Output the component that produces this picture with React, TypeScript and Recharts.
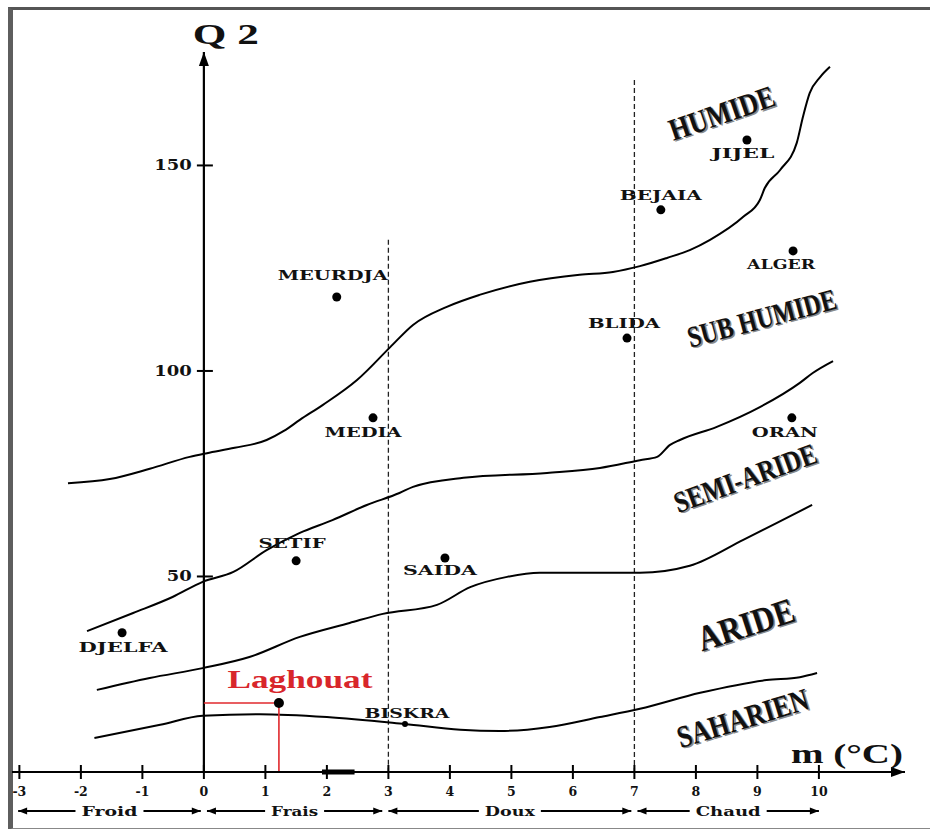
import React from 'react';
import { ComposedChart, Line, Scatter, XAxis, YAxis, ReferenceLine, ReferenceDot } from 'recharts';

// ---- axes ----
const xTicks = [-3, -2, -1, 0, 1, 2, 3, 4, 5, 6, 7, 8, 9, 10];
const yTicks = [50, 100, 150];
const X_MIN = -3.12;
const X_MAX = 11.4;
const Y_MIN = 2.43;
const Y_MAX = 177.6;

// ---- limit curves (m in °C, Q2) ----
const humideLimitM = [-2.21, -1.53, -0.88, -0.23, 0.05, 0.5, 1.02, 1.3, 1.56, 1.93, 2.49, 3.03, 3.4, 3.95, 4.48, 5.3, 6.11, 6.65, 7.09, 7.53, 7.9, 8.23, 8.77, 9.04, 9.12, 9.37, 9.64, 9.74, 9.85, 10.02, 10.18];
const humideLimitQ = [72.7, 73.7, 76.2, 79.1, 80.0, 81.3, 83.2, 85.4, 88.1, 91.7, 97.8, 105.8, 111.2, 115.6, 118.5, 121.7, 123.4, 124.1, 125.5, 127.5, 129.4, 131.9, 137.5, 141.6, 144.5, 148.9, 155.5, 161.8, 167.6, 171.5, 174.0];

const subHumideLimitM = [-1.9, -1.15, -0.51, -0.02, 0.48, 1.02, 1.56, 2.09, 2.65, 3.18, 3.4, 4.22, 5.58, 6.44, 7.09, 7.37, 7.58, 7.74, 8.34, 9.04, 9.69, 9.9, 10.23];
const subHumideLimitQ = [36.7, 41.1, 45.0, 48.7, 51.1, 56.4, 60.6, 63.7, 67.4, 70.3, 71.8, 74.0, 75.2, 76.4, 78.3, 79.1, 82.0, 83.2, 86.4, 91.2, 97.1, 99.5, 102.4];

const semiArideLimitM = [-1.74, -0.88, -0.02, 0.74, 1.56, 2.37, 2.91, 3.79, 4.33, 4.93, 5.46, 6.23, 7.09, 7.9, 8.77, 9.31, 9.89];
const semiArideLimitQ = [22.4, 25.3, 27.7, 30.4, 35.3, 38.7, 40.9, 43.1, 47.4, 49.9, 50.9, 50.9, 50.9, 52.6, 58.9, 63.0, 67.4];

const arideLimitM = [-1.78, -0.71, -0.02, 0.91, 2.0, 3.27, 4.17, 4.81, 5.62, 6.44, 7.09, 8.07, 9.15, 9.69, 9.97];
const arideLimitQ = [10.7, 13.9, 16.1, 16.5, 15.8, 14.1, 12.7, 12.4, 13.4, 15.8, 17.8, 21.7, 24.8, 25.5, 26.5];

// ---- stations ----
const stationNames = ['MEURDJA', 'MEDIA', 'BLIDA', 'BEJAIA', 'JIJEL', 'ALGER', 'ORAN', 'SETIF', 'SAIDA', 'DJELFA', 'BISKRA'];
const stationM = [2.16, 2.75, 6.88, 7.43, 8.83, 9.58, 9.56, 1.5, 3.92, -1.33, 3.27];
const stationQ = [118.0, 88.6, 108.0, 139.2, 156.2, 129.2, 88.6, 53.8, 54.5, 36.3, 14.1];

const laghouatName = 'Laghouat';
const laghouatM = 1.22;
const laghouatQ = 19.2;

// ---- bioclimatic stages (label anchors) ----
const stageNames = ['HUMIDE', 'SUB HUMIDE', 'SEMI-ARIDE', 'ARIDE', 'SAHARIEN'];
const stageM = [8.42, 9.07, 8.8, 8.81, 8.76];
const stageQ = [162.8, 112.9, 74.0, 38.4, 15.6];

// ---- winter variants ----
const winterNames = ['Froid', 'Frais', 'Doux', 'Chaud'];
const winterFrom = [-3.02, 0.05, 3.0, 7.05];
const winterTo = [-0.05, 2.9, 6.95, 10.0];
const WINTER_ROW_Q = -7.06;

// dashed limits
const dashedM = [3, 7];
const dashedTopQ = [131.9, 170.8];

// ---- styling (not data) ----
const SERIF_WIDE = "'DejaVu Serif', serif";
const SERIF = "'Liberation Serif', 'Times New Roman', serif";

const stationLabelLayout: Record<string, { dx: number; dy: number; w: number; r?: number }> = {
  MEURDJA: { dx: -4, dy: -21, w: 110 },
  MEDIA: { dx: -10, dy: 15, w: 77 },
  BLIDA: { dx: -3, dy: -15, w: 72 },
  BEJAIA: { dx: 0, dy: -14, w: 82 },
  JIJEL: { dx: -4, dy: 14, w: 63 },
  ALGER: { dx: -12, dy: 14, w: 68 },
  ORAN: { dx: -7, dy: 15, w: 66 },
  SETIF: { dx: -4, dy: -17, w: 67 },
  SAIDA: { dx: -5, dy: 13, w: 74 },
  DJELFA: { dx: 1, dy: 15, w: 89 },
  BISKRA: { dx: 2, dy: -11, w: 85, r: 3 },
};

const stageStyle: Record<string, { angle: number; size: number; len: number }> = {
  HUMIDE: { angle: -19, size: 26, len: 110 },
  'SUB HUMIDE': { angle: -15, size: 25, len: 153 },
  'SEMI-ARIDE': { angle: -20, size: 25, len: 150 },
  ARIDE: { angle: -18, size: 30, len: 100 },
  SAHARIEN: { angle: -17, size: 26, len: 136 },
};

const winterTextWidth: Record<string, number> = { Froid: 56, Frais: 47, Doux: 50, Chaud: 65 };

const zip = (ms: number[], qs: number[]) => ms.map((m, i) => ({ m, q: qs[i] }));
const stations = stationNames.map((name, i) => ({ name, m: stationM[i], q: stationQ[i] }));
const laghouat = [{ name: laghouatName, m: laghouatM, q: laghouatQ }];
const curves = [
  zip(humideLimitM, humideLimitQ),
  zip(subHumideLimitM, subHumideLimitQ),
  zip(semiArideLimitM, semiArideLimitQ),
  zip(arideLimitM, arideLimitQ),
];

const XTick = (props: any) => {
  const { x, y, payload } = props;
  return (
    <g>
      <line x1={x} x2={x} y1={y - 7} y2={y + 7} stroke="#000" strokeWidth={2} />
      <text x={x} y={y + 19} textAnchor="middle" dominantBaseline="central" fontFamily={SERIF_WIDE} fontWeight="bold" fontSize={12.5} fill="#111">
        {payload.value}
      </text>
    </g>
  );
};

const StationMark = (props: any) => {
  const { cx, cy, payload } = props;
  const lay = stationLabelLayout[payload.name];
  return (
    <g>
      <circle cx={cx} cy={cy} r={lay.r ?? 4.5} fill="#000" />
      <text x={cx + lay.dx} y={cy + lay.dy} textAnchor="middle" dominantBaseline="central" fontFamily={SERIF_WIDE} fontWeight="bold" fontSize={13} textLength={lay.w} lengthAdjust="spacingAndGlyphs" fill="#111">
        {payload.name}
      </text>
    </g>
  );
};

const LaghouatMark = (props: any) => {
  const { cx, cy, payload } = props;
  return (
    <g>
      <circle cx={cx} cy={cy} r={5} fill="#000" />
      <text x={cx + 21} y={cy - 24} textAnchor="middle" dominantBaseline="central" fontFamily={SERIF} fontWeight="bold" fontSize={25} textLength={145} lengthAdjust="spacingAndGlyphs" fill="#d8262b">
        {payload.name}
      </text>
    </g>
  );
};

const StageLabel = (props: any) => {
  const { cx, cy, name } = props;
  const s = stageStyle[name];
  const common = {
    textAnchor: 'middle' as const,
    dominantBaseline: 'central' as const,
    fontFamily: SERIF,
    fontWeight: 'bold' as const,
    fontSize: s.size,
    textLength: s.len,
    lengthAdjust: 'spacingAndGlyphs' as const,
  };
  return (
    <g transform={`translate(${cx},${cy}) rotate(${s.angle}) scale(1,1.2)`}>
      <text x={1.3} y={1.3} fill="#8a8a8a" {...common}>{name}</text>
      <text x={0} y={0} fill="#111" {...common}>{name}</text>
    </g>
  );
};

const YTickMark = (props: any) => {
  const { cx, cy, value } = props;
  const label = String(value);
  return (
    <g>
      <line x1={cx - 7} x2={cx + 9} y1={cy} y2={cy} stroke="#000" strokeWidth={2} />
      <text x={cx - 12} y={cy} textAnchor="end" dominantBaseline="central" fontFamily={SERIF_WIDE} fontWeight="bold" fontSize={15} textLength={label.length * 12.5} lengthAdjust="spacingAndGlyphs" fill="#111">
        {label}
      </text>
    </g>
  );
};

const YArrow = (props: any) => {
  const { cx, cy } = props;
  return (
    <g>
      <path d={`M${cx},${cy} L${cx - 5},${cy + 14} L${cx + 5},${cy + 14} Z`} fill="#000" />
      <text x={cx - 11} y={cy - 8} textAnchor="start" fontFamily={SERIF} fontWeight="bold" fontSize={30} textLength={66} lengthAdjust="spacingAndGlyphs" fill="#111">
        Q 2
      </text>
    </g>
  );
};

const XArrow = (props: any) => {
  const { cx, cy } = props;
  return (
    <g>
      <path d={`M${cx},${cy} L${cx - 14},${cy - 5} L${cx - 14},${cy + 5} Z`} fill="#000" />
      <text x={cx - 2} y={cy - 9} textAnchor="end" fontFamily={SERIF} fontWeight="bold" fontSize={28} textLength={112} lengthAdjust="spacingAndGlyphs" fill="#111">
        m (°C)
      </text>
    </g>
  );
};

const WinterSpan = (props: any) => {
  const { viewBox, text } = props;
  if (!viewBox) return null;
  const { x, y, width } = viewBox;
  const x2 = x + width;
  const mid = x + width / 2;
  const tw = winterTextWidth[text];
  return (
    <g>
      <rect x={mid - tw / 2 - 6} y={y - 9} width={tw + 12} height={18} fill="#fff" />
      <path d={`M${x},${y} l9,-3.5 l0,7 z`} fill="#000" />
      <path d={`M${x2},${y} l-9,-3.5 l0,7 z`} fill="#000" />
      <text x={mid} y={y} textAnchor="middle" dominantBaseline="central" fontFamily={SERIF_WIDE} fontWeight="bold" fontSize={13} textLength={tw} lengthAdjust="spacingAndGlyphs" fill="#111">
        {text}
      </text>
    </g>
  );
};

export default function App() {
  return (
    <div style={{ position: 'absolute', left: 0, top: 0, width: 930, height: 829, background: '#fff', overflow: 'hidden' }}>
      <div
        style={{
          position: 'absolute',
          left: 8,
          top: 7,
          width: 940,
          height: 818,
          borderTop: '3px solid #555',
          borderLeft: '5px solid #5e5e5e',
          borderBottom: '2px solid #888',
        }}
      />
      <div style={{ position: 'absolute', left: 0, top: 0 }}>
        <ComposedChart width={930} height={829} margin={{ top: 52, right: 25, bottom: 0, left: 12 }}>
          <XAxis
            type="number"
            dataKey="m"
            domain={[X_MIN, X_MAX]}
            allowDataOverflow
            ticks={xTicks}
            interval={0}
            tick={<XTick />}
            tickLine={false}
            tickSize={0}
            tickMargin={0}
            height={57}
            axisLine={{ stroke: '#000', strokeWidth: 2 }}
          />
          <YAxis type="number" dataKey="q" domain={[Y_MIN, Y_MAX]} allowDataOverflow hide />

          {dashedM.map((m, i) => (
            <ReferenceLine
              key={`dash-${m}`}
              segment={[{ x: m, y: dashedTopQ[i] }, { x: m, y: Y_MIN }]}
              stroke="#222"
              strokeWidth={1.3}
              strokeDasharray="5 3"
              ifOverflow="visible"
            />
          ))}

          <ReferenceLine x={0} stroke="#000" strokeWidth={2.2} />

          {curves.map((d, i) => (
            <Line
              key={`curve-${i}`}
              data={d}
              dataKey="q"
              type="monotone"
              stroke="#000"
              strokeWidth={2}
              dot={false}
              activeDot={false}
              isAnimationActive={false}
            />
          ))}

          <ReferenceLine
            segment={[{ x: 0, y: laghouatQ }, { x: laghouatM, y: laghouatQ }]}
            stroke="#e0282c"
            strokeWidth={1.6}
            ifOverflow="visible"
          />
          <ReferenceLine
            segment={[{ x: laghouatM, y: laghouatQ }, { x: laghouatM, y: Y_MIN }]}
            stroke="#e0282c"
            strokeWidth={1.6}
            ifOverflow="visible"
          />
          <ReferenceLine
            segment={[{ x: 1.92, y: Y_MIN }, { x: 2.45, y: Y_MIN }]}
            stroke="#000"
            strokeWidth={5}
            ifOverflow="visible"
          />

          {winterNames.map((w, i) => (
            <ReferenceLine
              key={`winter-${w}`}
              segment={[{ x: winterFrom[i], y: WINTER_ROW_Q }, { x: winterTo[i], y: WINTER_ROW_Q }]}
              stroke="#000"
              strokeWidth={1.8}
              ifOverflow="visible"
              label={<WinterSpan text={w} />}
            />
          ))}

          {yTicks.map((v) => (
            <ReferenceDot key={`yt-${v}`} x={0} y={v} ifOverflow="visible" shape={(p: any) => <YTickMark {...p} value={v} />} />
          ))}
          <ReferenceDot x={0} y={Y_MAX} ifOverflow="visible" shape={(p: any) => <YArrow {...p} />} />
          <ReferenceDot x={X_MAX} y={Y_MIN} ifOverflow="visible" shape={(p: any) => <XArrow {...p} />} />

          {stageNames.map((n, i) => (
            <ReferenceDot key={`stage-${n}`} x={stageM[i]} y={stageQ[i]} ifOverflow="visible" shape={(p: any) => <StageLabel {...p} name={n} />} />
          ))}

          <Scatter data={stations} dataKey="q" isAnimationActive={false} shape={(p: any) => <StationMark {...p} />} />
          <Scatter data={laghouat} dataKey="q" isAnimationActive={false} shape={(p: any) => <LaghouatMark {...p} />} />
        </ComposedChart>
      </div>
    </div>
  );
}
